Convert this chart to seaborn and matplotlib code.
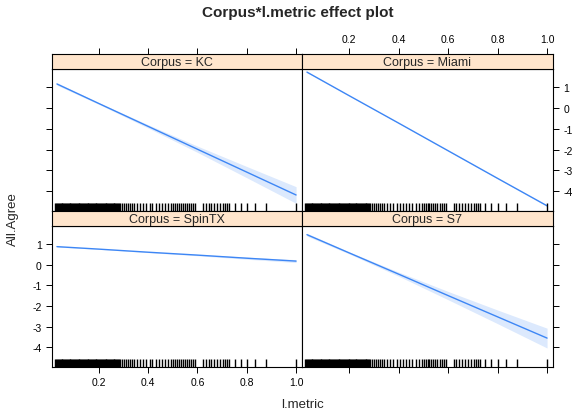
import numpy as np
import pandas as pd
import matplotlib
matplotlib.use("Agg")
import matplotlib.pyplot as plt
import seaborn as sns

# effect estimates, per corpus
x_grid = [0.03, 0.2, 0.4, 0.6, 0.8, 1.0]

kc_fit = [1.16, 0.22, -0.88, -1.98, -3.08, -4.18]
kc_lo = [1.10, 0.18, -0.96, -2.13, -3.35, -4.58]
kc_hi = [1.22, 0.26, -0.80, -1.83, -2.81, -3.78]

miami_fit = [1.73, 0.60, -0.72, -2.05, -3.38, -4.70]
miami_lo = [1.71, 0.59, -0.73, -2.07, -3.40, -4.73]
miami_hi = [1.75, 0.61, -0.71, -2.03, -3.36, -4.67]

spintx_fit = [0.88, 0.76, 0.61, 0.47, 0.32, 0.18]
spintx_lo = [0.86, 0.75, 0.59, 0.44, 0.27, 0.11]
spintx_hi = [0.90, 0.77, 0.63, 0.50, 0.37, 0.25]

s7_fit = [1.46, 0.58, -0.45, -1.49, -2.52, -3.55]
s7_lo = [1.39, 0.53, -0.55, -1.69, -2.85, -4.03]
s7_hi = [1.53, 0.63, -0.35, -1.29, -2.19, -3.07]

# observed l.metric values (rug)
rug_x = [
    0.024, 0.028, 0.031, 0.035, 0.038, 0.042, 0.045, 0.049, 0.052, 0.056,
    0.060, 0.063, 0.067, 0.070, 0.074, 0.078, 0.081, 0.085, 0.088, 0.092,
    0.096, 0.100, 0.103, 0.107, 0.110, 0.114, 0.118, 0.121, 0.125, 0.128,
    0.132, 0.136, 0.140, 0.143, 0.147, 0.150, 0.154, 0.158, 0.161, 0.165,
    0.168, 0.172, 0.176, 0.180, 0.183, 0.187, 0.190, 0.194, 0.198, 0.201,
    0.205, 0.208, 0.212, 0.216, 0.220, 0.223, 0.227, 0.230, 0.234, 0.238,
    0.241, 0.245, 0.249, 0.252, 0.256, 0.260, 0.263, 0.267, 0.270, 0.274,
    0.278, 0.282, 0.285,
    0.293, 0.301, 0.309, 0.317, 0.325, 0.333, 0.341, 0.355, 0.366, 0.379,
    0.393, 0.407, 0.417, 0.431, 0.442, 0.455, 0.469, 0.482, 0.493, 0.501,
    0.509, 0.517, 0.525, 0.533, 0.541, 0.549, 0.557, 0.566, 0.574, 0.582,
    0.590, 0.623, 0.634, 0.645, 0.656, 0.669, 0.680, 0.691, 0.705, 0.713,
    0.721, 0.729, 0.751, 0.775, 0.802, 0.835, 0.878, 1.000,
]

panels = {
    "KC": (kc_fit, kc_lo, kc_hi),
    "Miami": (miami_fit, miami_lo, miami_hi),
    "SpinTX": (spintx_fit, spintx_lo, spintx_hi),
    "S7": (s7_fit, s7_lo, s7_hi),
}

sns.set_style("white")
plt.rcParams["font.family"] = ["Liberation Sans", "DejaVu Sans"]

LINE = "#3d86f5"
STRIP = "#ffe5cc"

W, H = 573, 414
fig = plt.figure(figsize=(W / 100, H / 100), dpi=100)

def fx(px):
    return px / W

def fy(py):
    return 1 - py / H

left_x, mid_x, right_x = 52, 302, 553
rows = [(55, 70, 212), (212, 227, 368)]  # strip top, plot top, plot bottom
layout = [("KC", 0, 0), ("Miami", 0, 1), ("SpinTX", 1, 0), ("S7", 1, 1)]

xlim = (0.01, 1.024)
ylim = (-4.95, 1.88)
xt = [0.2, 0.4, 0.6, 0.8, 1.0]
xt_lab = ["0.2", "0.4", "0.6", "0.8", "1.0"]
yt = [1, 0, -1, -2, -3, -4]

def style_spines(a):
    for sp in a.spines.values():
        sp.set_color("black")
        sp.set_linewidth(0.8)

for name, r, c in layout:
    x0, x1 = (left_x, mid_x) if c == 0 else (mid_x, right_x)
    s_top, p_top, p_bot = rows[r]
    top_row = r == 0
    ax = fig.add_axes([fx(x0), fy(p_bot), fx(x1 - x0), (p_bot - p_top) / H])
    fit, lo, hi = panels[name]
    df = pd.DataFrame({"x": x_grid, "fit": fit})
    ax.fill_between(x_grid, lo, hi, color=LINE, alpha=0.18, lw=0)
    sns.lineplot(data=df, x="x", y="fit", ax=ax, color=LINE, lw=1.0)
    sns.rugplot(x=rug_x, ax=ax, height=0.055, color="black", lw=1.1, alpha=1)
    ax.set_xlim(*xlim)
    ax.set_ylim(*ylim)
    ax.set_xlabel("")
    ax.set_ylabel("")
    ax.set_xticks(xt)
    ax.set_yticks(yt)
    ax.set_xticklabels(xt_lab)
    ax.set_yticklabels([str(v) for v in yt])
    style_spines(ax)
    ax.tick_params(direction="out", length=4.5, width=0.7, labelsize=7.5,
                   colors="black", pad=3)
    ax.tick_params(axis="x", top=False, bottom=not top_row, labeltop=False,
                   labelbottom=(not top_row and c == 0))
    ax.tick_params(axis="y", left=(c == 0), right=(c == 1),
                   labelleft=(c == 0 and not top_row),
                   labelright=(c == 1 and top_row))

    # strip above panel; top row carries the top x ticks (drawn above strip)
    sax = fig.add_axes([fx(x0), fy(p_top), fx(x1 - x0), (p_top - s_top) / H])
    sax.set_facecolor(STRIP)
    sax.set_xlim(*xlim)
    sax.set_yticks([])
    style_spines(sax)
    if top_row:
        sax.set_xticks(xt)
        sax.set_xticklabels(xt_lab)
        sax.tick_params(axis="x", direction="out", length=4.5, width=0.7,
                        labelsize=7.5, colors="black", pad=3, top=True,
                        bottom=False, labeltop=(c == 1), labelbottom=False)
    else:
        sax.set_xticks([])
    sax.text(0.5, 0.45, f"Corpus = {name}", ha="center", va="center",
             fontsize=9, transform=sax.transAxes)

fig.text(fx(298), fy(13), "Corpus*l.metric effect plot", ha="center",
         va="center", fontsize=11, fontweight="bold")
fig.text(fx(302), fy(405), "l.metric", ha="center", va="center", fontsize=9.5)
fig.text(fx(13), fy(219), "All.Agree", ha="center", va="center",
         rotation=90, fontsize=9.5)

fig.savefig("out.png", dpi=100)
